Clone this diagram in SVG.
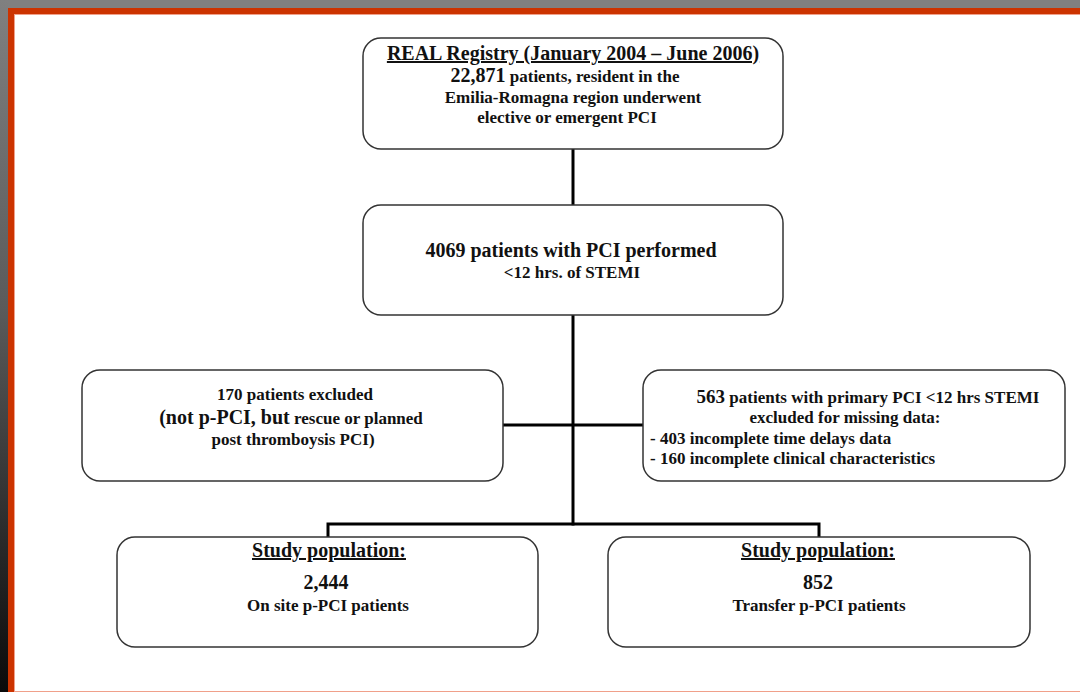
<svg xmlns="http://www.w3.org/2000/svg" width="1080" height="692" viewBox="0 0 1080 692">
<defs>
<linearGradient id="leftFrame" x1="0" y1="0" x2="0" y2="1">
<stop offset="0" stop-color="#808080"/>
<stop offset="0.45" stop-color="#5a5a5a"/>
<stop offset="1" stop-color="#0a0a0a"/>
</linearGradient>
<style>
.box{fill:#ffffff;stroke:#333333;stroke-width:1.5}
.conn{stroke:#000000;stroke-width:3;fill:none;stroke-linecap:square}
text{font-family:"Liberation Serif","Times New Roman",serif;font-weight:bold;fill:#111111}
.c{text-anchor:middle}
.s{font-size:17px}
.m{font-size:20px}
.u{text-decoration:underline}
</style>
</defs>
<rect x="0" y="0" width="1080" height="692" fill="#ffffff"/>
<rect x="0" y="0" width="1080" height="8" fill="#808080"/>
<rect x="0" y="0" width="8" height="692" fill="url(#leftFrame)"/>
<rect x="8" y="8" width="1072" height="6" fill="#cc3300"/>
<rect x="8" y="8" width="6" height="684" fill="#cc3300"/>
<rect x="14" y="14" width="1066" height="1" fill="#f0a08a"/>
<rect x="14" y="14" width="1" height="678" fill="#f0a08a"/>
<rect x="14" y="691" width="1066" height="1" fill="#f0a08a"/>

<g id="connectors">
<line class="conn" x1="573" y1="149" x2="573" y2="205"/>
<line class="conn" x1="573" y1="315" x2="573" y2="524"/>
<line class="conn" x1="503" y1="425" x2="643" y2="425"/>
<polyline class="conn" points="328,537 328,524 819,524 819,537"/>
</g>

<g id="registry">
<rect class="box" x="363" y="38" width="420" height="111" rx="18"/>
<text class="c u" x="573" y="60" font-size="20">REAL Registry (January 2004 – June 2006)</text>
<text class="c s" x="565" y="82"><tspan class="m">22,871</tspan>  patients, resident in the</text>
<text class="c s" x="573" y="103">Emilia-Romagna region underwent</text>
<text class="c s" x="567" y="123">elective or emergent PCI</text>
</g>

<g id="pci4069">
<rect class="box" x="363" y="205" width="420" height="110" rx="18"/>
<text class="c m" x="571" y="257">4069 patients with PCI performed</text>
<text class="c s" x="572" y="278">&lt;12 hrs. of STEMI</text>
</g>

<g id="excluded170">
<rect class="box" x="82" y="370" width="421" height="111" rx="18"/>
<text class="c s" x="295" y="400">170 patients excluded</text>
<text class="c s" x="291" y="424"><tspan class="m">(not p-PCI, but</tspan> rescue or planned</text>
<text class="c s" x="293" y="445">post thromboysis PCI)</text>
</g>

<g id="excluded563">
<rect class="box" x="643" y="370" width="422" height="111" rx="18"/>
<text class="c s" x="868" y="403"><tspan font-size="19">563</tspan> patients with primary PCI &lt;12 hrs STEMI</text>
<text class="c s" x="845" y="423">excluded for missing data:</text>
<text class="s" x="650" y="444">- 403 incomplete time delays data</text>
<text class="s" x="650" y="464">- 160 incomplete clinical characteristics</text>
</g>

<g id="onsite">
<rect class="box" x="117" y="537" width="421" height="110" rx="18"/>
<text class="c m u" x="329" y="557">Study population:</text>
<text class="c m" x="326" y="589">2,444</text>
<text class="c s" x="328" y="611">On site p-PCI patients</text>
</g>

<g id="transfer">
<rect class="box" x="608" y="537" width="422" height="110" rx="18"/>
<text class="c m u" x="818" y="557">Study population:</text>
<text class="c m" x="818" y="589">852</text>
<text class="c s" x="819" y="611">Transfer p-PCI patients</text>
</g>
</svg>
